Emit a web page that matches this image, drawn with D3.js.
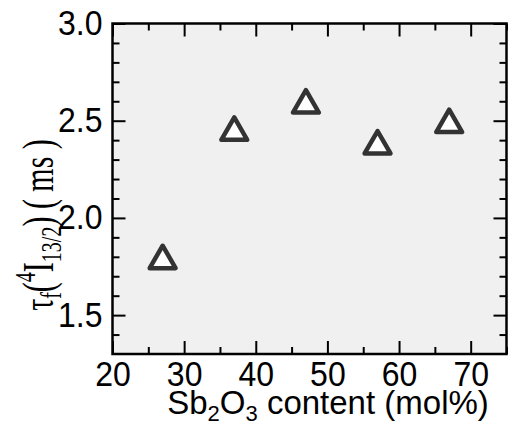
<!DOCTYPE html>
<html>
<head>
<meta charset="utf-8">
<script src="https://cdn.jsdelivr.net/npm/d3@7"></script>
<style>
  body { margin: 0; background: #fff; }
  svg { display: block; }
</style>
</head>
<body>
<div id="mainchart"></div>
<script>
// data
var contents = [27, 37, 47, 57, 67];          // Sb2O3 mol%
var lifetimes = [1.78, 2.44, 2.58, 2.37, 2.48]; // tau_f (ms)
var xMajor = [20, 30, 40, 50, 60, 70];
var xMinor = [25, 35, 45, 55, 65, 75];
var yMajor = [1.5, 2.0, 2.5, 3.0];
var yMinor = [1.4, 1.6, 1.7, 1.8, 1.9, 2.1, 2.2, 2.3, 2.4, 2.6, 2.7, 2.8, 2.9];

var W = 509, H = 426;
var margin = {top: 23.5, right: 2.5, bottom: 72, left: 112.5};
var width = W - margin.left - margin.right,
    height = H - margin.top - margin.bottom;

var svg = d3.select("#mainchart").append("svg")
  .attr("width", W).attr("height", H);
var g = svg.append("g").attr("transform", "translate(" + margin.left + "," + margin.top + ")");

var x = d3.scaleLinear().domain([20, 75]).range([0, width]);
var y = d3.scaleLinear().domain([1.3, 3.0]).range([height, 0]);

g.append("rect").attr("width", width).attr("height", height).attr("fill", "#f0f0f0");

function styleAxis(sel) {
  sel.select(".domain").remove();
  sel.selectAll(".tick line").attr("stroke", "#000").attr("stroke-width", 2);
  sel.selectAll("text").attr("font-family", "Liberation Sans, Arial, sans-serif")
    .attr("font-size", 32).attr("fill", "#000")
    .attr("transform", "scale(1,1.08)");
}

var majLen = 13, minLen = 7;

// bottom
g.append("g").attr("transform", "translate(0," + height + ")")
  .call(d3.axisBottom(x).tickValues(xMajor).tickSize(-majLen).tickPadding(7).tickFormat(d3.format("d")))
  .call(styleAxis);
g.append("g").attr("transform", "translate(0," + height + ")")
  .call(d3.axisBottom(x).tickValues(xMinor).tickSize(-minLen).tickFormat(""))
  .call(styleAxis);
// top
g.append("g")
  .call(d3.axisTop(x).tickValues(xMajor).tickSize(-majLen).tickFormat(""))
  .call(styleAxis);
g.append("g")
  .call(d3.axisTop(x).tickValues(xMinor).tickSize(-minLen).tickFormat(""))
  .call(styleAxis);
// left
g.append("g")
  .call(d3.axisLeft(y).tickValues(yMajor).tickSize(-majLen).tickPadding(10).tickFormat(d3.format(".1f")))
  .call(styleAxis);
g.append("g")
  .call(d3.axisLeft(y).tickValues(yMinor).tickSize(-minLen).tickFormat(""))
  .call(styleAxis);
// right
g.append("g").attr("transform", "translate(" + width + ",0)")
  .call(d3.axisRight(y).tickValues(yMajor).tickSize(-majLen).tickFormat(""))
  .call(styleAxis);
g.append("g").attr("transform", "translate(" + width + ",0)")
  .call(d3.axisRight(y).tickValues(yMinor).tickSize(-minLen).tickFormat(""))
  .call(styleAxis);

// frame
g.append("rect").attr("width", width).attr("height", height)
  .attr("fill", "none").attr("stroke", "#000").attr("stroke-width", 2.5);

// markers
var tri = d3.symbol().type(d3.symbolTriangle).size(290);
g.selectAll("path.pt")
  .data(contents).enter().append("path")
  .attr("class", "pt")
  .attr("transform", function(d, i) { return "translate(" + x(d) + "," + y(lifetimes[i]) + ")"; })
  .attr("d", tri)
  .attr("fill", "#fff")
  .attr("stroke", "#333")
  .attr("stroke-width", 4.5)
  .attr("stroke-linejoin", "round");

// x title
var xt = svg.append("text")
  .attr("x", 328).attr("y", 414)
  .attr("text-anchor", "middle")
  .attr("font-family", "Liberation Sans, Arial, sans-serif")
  .attr("font-size", 33).attr("fill", "#000");
xt.append("tspan").text("Sb");
xt.append("tspan").attr("font-size", 22).attr("dy", 7).text("2");
xt.append("tspan").attr("dy", -7).text("O");
xt.append("tspan").attr("font-size", 22).attr("dy", 7).text("3");
xt.append("tspan").attr("dy", -7).text(" content (mol%)");

// y title (glyphs drawn taller than wide, as in the reference)
var yt = svg.append("text")
  .attr("transform", "translate(53,225) rotate(-90) scale(1,1.5)")
  .attr("text-anchor", "middle")
  .attr("font-family", "Liberation Serif, Times New Roman, serif")
  .attr("font-size", 30).attr("fill", "#000");
yt.append("tspan").text("\u03c4");
yt.append("tspan").attr("font-size", 20).attr("dy", 5).text("f");
yt.append("tspan").attr("dy", -5).text("(");
yt.append("tspan").attr("font-size", 20).attr("dy", -12).text("4");
yt.append("tspan").attr("dy", 12).text("I");
yt.append("tspan").attr("font-size", 20).attr("dy", 5).text("13/2");
yt.append("tspan").attr("dy", -5).text(") ( ms )");
</script>
</body>
</html>
